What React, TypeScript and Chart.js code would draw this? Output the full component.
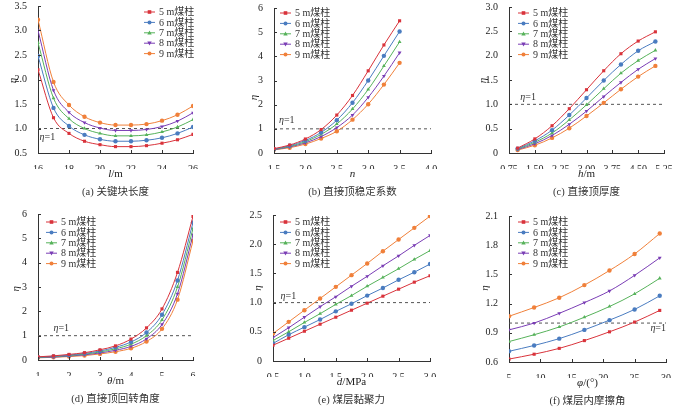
import { useEffect, useRef } from "react";
import { Chart, registerables } from "chart.js";
Chart.register(...registerables);

const SERIES = ["5 m煤柱", "6 m煤柱", "7 m煤柱", "8 m煤柱", "9 m煤柱"];
const COLORS = ["#d9333b", "#4a7cc0", "#56b25a", "#7a3db5", "#f0803a"];
const MARKERS = ["rect", "circle", "triangle", "triangle", "circle"];
const ROTATIONS = [0, 0, 0, 180, 0];

// (a) 关键块长度
const aX = [16, 17, 18, 19, 20, 21, 22, 23, 24, 25, 26];
const a5 = [2.2, 1.22, 0.9, 0.74, 0.67, 0.63, 0.63, 0.65, 0.7, 0.77, 0.88];
const a6 = [2.48, 1.42, 1.05, 0.87, 0.78, 0.74, 0.74, 0.76, 0.81, 0.9, 1.03];
const a7 = [2.75, 1.62, 1.2, 1.0, 0.9, 0.85, 0.85, 0.87, 0.93, 1.03, 1.18];
const a8 = [3.0, 1.78, 1.33, 1.12, 1.01, 0.96, 0.96, 0.98, 1.04, 1.15, 1.32];
const a9 = [3.22, 1.95, 1.48, 1.24, 1.12, 1.07, 1.07, 1.09, 1.16, 1.28, 1.46];

// (b) 直接顶稳定系数
const bX = [1.5, 1.75, 2.0, 2.25, 2.5, 2.75, 3.0, 3.25, 3.5];
const b5 = [0.18, 0.33, 0.58, 0.97, 1.57, 2.38, 3.4, 4.47, 5.47];
const b6 = [0.16, 0.3, 0.52, 0.85, 1.36, 2.08, 3.0, 4.02, 5.03];
const b7 = [0.15, 0.27, 0.47, 0.77, 1.2, 1.82, 2.63, 3.6, 4.6];
const b8 = [0.14, 0.25, 0.42, 0.68, 1.05, 1.57, 2.3, 3.18, 4.15];
const b9 = [0.13, 0.22, 0.37, 0.6, 0.9, 1.38, 2.02, 2.83, 3.73];

// (c) 直接顶厚度
const cX = [1.0, 1.5, 2.0, 2.5, 3.0, 3.5, 4.0, 4.5, 5.0];
const c5 = [0.1, 0.29, 0.56, 0.91, 1.3, 1.69, 2.04, 2.3, 2.49];
const c6 = [0.09, 0.25, 0.47, 0.78, 1.13, 1.49, 1.82, 2.1, 2.29];
const c7 = [0.08, 0.22, 0.41, 0.68, 0.99, 1.32, 1.64, 1.9, 2.11];
const c8 = [0.07, 0.19, 0.36, 0.59, 0.86, 1.16, 1.45, 1.72, 1.94];
const c9 = [0.06, 0.16, 0.31, 0.51, 0.76, 1.03, 1.31, 1.57, 1.79];

// (d) 直接顶回转角度
const dX = [1, 1.5, 2, 2.5, 3, 3.5, 4, 4.5, 5, 5.5, 6];
const d5 = [0.13, 0.17, 0.23, 0.3, 0.42, 0.58, 0.86, 1.32, 2.1, 3.6, 5.9];
const d6 = [0.12, 0.15, 0.2, 0.27, 0.37, 0.52, 0.74, 1.13, 1.86, 3.27, 5.65];
const d7 = [0.11, 0.14, 0.18, 0.24, 0.33, 0.46, 0.65, 1.0, 1.65, 3.0, 5.4];
const d8 = [0.1, 0.12, 0.16, 0.21, 0.29, 0.4, 0.56, 0.87, 1.46, 2.72, 5.15];
const d9 = [0.09, 0.11, 0.14, 0.18, 0.25, 0.34, 0.48, 0.76, 1.28, 2.48, 4.9];

// (e) 煤层黏聚力
const eX = [0.5, 0.75, 1.0, 1.25, 1.5, 1.75, 2.0, 2.25, 2.5, 2.75, 3.0];
const e5 = [0.27, 0.39, 0.51, 0.63, 0.75, 0.87, 0.99, 1.11, 1.23, 1.35, 1.46];
const e6 = [0.3, 0.45, 0.58, 0.71, 0.85, 0.98, 1.12, 1.25, 1.39, 1.52, 1.66];
const e7 = [0.35, 0.5, 0.66, 0.81, 0.97, 1.12, 1.28, 1.43, 1.58, 1.74, 1.89];
const e8 = [0.4, 0.57, 0.75, 0.93, 1.1, 1.28, 1.45, 1.63, 1.8, 1.98, 2.15];
const e9 = [0.47, 0.67, 0.87, 1.07, 1.27, 1.47, 1.67, 1.88, 2.08, 2.28, 2.48];

// (f) 煤层内摩擦角
const fX = [5, 9, 13, 17, 21, 25, 29];
const f5 = [0.63, 0.68, 0.74, 0.82, 0.91, 1.01, 1.13];
const f6 = [0.71, 0.77, 0.84, 0.93, 1.03, 1.14, 1.28];
const f7 = [0.81, 0.88, 0.96, 1.06, 1.17, 1.3, 1.46];
const f8 = [0.93, 1.0, 1.1, 1.21, 1.33, 1.49, 1.67];
const f9 = [1.07, 1.16, 1.26, 1.39, 1.54, 1.71, 1.92];

const FONT = '"Liberation Serif", "Noto Sans CJK SC", serif';

type Panel = {
  id: string;
  xs: number[];
  ys: number[][];
  x: [number, number, number, number]; // min, max, step, decimals
  y: [number, number, number, number];
  rect: [number, number, number, number]; // left, top, right, bottom of plot area
  yTitle: [number, number]; // offset left of axis, value
  legend: [number, number];
  eta: [number, number, "left" | "right"];
  xTitle: React.ReactNode;
  caption: string;
};

const PANELS: Panel[] = [
  {
    id: "a", xs: aX, ys: [a5, a6, a7, a8, a9],
    x: [16, 26, 2, 0], y: [0.5, 3.5, 0.5, 1],
    rect: [38, 5, 193, 153], yTitle: [25, 1.98], legend: [106, 6], eta: [16.1, 0.82, "left"],
    xTitle: <><i>l</i>/m</>, caption: "(a) 关键块长度",
  },
  {
    id: "b", xs: bX, ys: [b5, b6, b7, b8, b9],
    x: [1.5, 4.0, 0.5, 1], y: [0, 6, 1, 0],
    rect: [274, 7, 431, 153], yTitle: [20, 2.3], legend: [6, 5], eta: [1.58, 1.34, "left"],
    xTitle: <i>n</i>, caption: "(b) 直接顶稳定系数",
  },
  {
    id: "c", xs: cX, ys: [c5, c6, c7, c8, c9],
    x: [0.75, 5.25, 0.75, 2], y: [0, 3, 0.5, 1],
    rect: [509, 6, 664, 153], yTitle: [26, 1.49], legend: [9, 6], eta: [1.08, 1.15, "left"],
    xTitle: <><i>h</i>/m</>, caption: "(c) 直接顶厚度",
  },
  {
    id: "d", xs: dX, ys: [d5, d6, d7, d8, d9],
    x: [1, 6, 1, 0], y: [0, 6, 1, 0],
    rect: [38, 213, 193, 360], yTitle: [22, 2.93], legend: [8, 8], eta: [1.5, 1.32, "left"],
    xTitle: <><i>θ</i>/m</>, caption: "(d) 直接顶回转角度",
  },
  {
    id: "e", xs: eX, ys: [e5, e6, e7, e8, e9],
    x: [0.5, 3.0, 0.5, 1], y: [0, 2.5, 0.5, 1],
    rect: [273, 214, 430, 361], yTitle: [15, 1.25], legend: [7, 7], eta: [0.62, 1.1, "left"],
    xTitle: <><i>d</i>/MPa</>, caption: "(e) 煤层黏聚力",
  },
  {
    id: "f", xs: fX, ys: [f5, f6, f7, f8, f9],
    x: [5, 30, 5, 0], y: [0.6, 2.1, 0.3, 1],
    rect: [509, 215, 666, 362], yTitle: [24, 1.36], legend: [9, 6], eta: [30, 0.95, "right"],
    xTitle: <><i>φ</i>/(°)</>, caption: "(f) 煤层内摩擦角",
  },
];

const YW = 40;
const TOP_PAD = 8;
const RIGHT_PAD = 12;
const XH = 16;

function drawMarker(ctx: CanvasRenderingContext2D, i: number, x: number, y: number, r: number) {
  ctx.save();
  ctx.fillStyle = COLORS[i];
  ctx.translate(x, y);
  ctx.rotate((ROTATIONS[i] * Math.PI) / 180);
  ctx.beginPath();
  const style = MARKERS[i];
  if (style === "rect") {
    ctx.rect(-r * 0.9, -r * 0.9, r * 1.8, r * 1.8);
  } else if (style === "triangle") {
    ctx.moveTo(0, -r * 1.2);
    ctx.lineTo(r * 1.1, r * 0.8);
    ctx.lineTo(-r * 1.1, r * 0.8);
    ctx.closePath();
  } else {
    ctx.arc(0, 0, r, 0, Math.PI * 2);
  }
  ctx.fill();
  ctx.restore();
}

function ChartPanel({ p }: { p: Panel }) {
  const ref = useRef<HTMLCanvasElement>(null);
  const [l, t, r, b] = p.rect;
  const cw = r - l + YW + RIGHT_PAD;
  const ch = b - t + TOP_PAD + XH;

  useEffect(() => {
    if (!ref.current) return;
    const fmt = (dec: number) => (v: string | number) => {
      const n = Number(v);
      if (Math.abs(n) < 1e-9) return "0";
      return n.toFixed(dec);
    };
    const overlay = {
      id: "overlay" + p.id,
      afterDraw(chart: Chart) {
        const ctx = chart.ctx;
        const area = chart.chartArea;
        const xs = chart.scales.x;
        const ys = chart.scales.y;
        ctx.save();
        // inward ticks
        ctx.strokeStyle = "#333";
        ctx.lineWidth = 1;
        ctx.beginPath();
        xs.ticks.forEach(tk => {
          const px = Math.round(xs.getPixelForValue(tk.value)) + 0.5;
          ctx.moveTo(px, area.bottom);
          ctx.lineTo(px, area.bottom - 3);
        });
        ys.ticks.forEach(tk => {
          const py = Math.round(ys.getPixelForValue(tk.value)) + 0.5;
          ctx.moveTo(area.left, py);
          ctx.lineTo(area.left + 3, py);
        });
        ctx.stroke();
        // y title η, rotated
        ctx.save();
        ctx.translate(area.left - p.yTitle[0], ys.getPixelForValue(p.yTitle[1]));
        ctx.rotate(-Math.PI / 2);
        ctx.fillStyle = "#222";
        ctx.font = `italic 11px ${FONT}`;
        ctx.textAlign = "center";
        ctx.textBaseline = "middle";
        ctx.fillText("η", 0, 0);
        ctx.restore();
        // η=1 label
        ctx.fillStyle = "#333";
        ctx.font = `italic 10px ${FONT}`;
        ctx.textBaseline = "middle";
        ctx.textAlign = p.eta[2];
        const ex = xs.getPixelForValue(p.eta[0]);
        const ey = ys.getPixelForValue(p.eta[1]);
        if (p.eta[2] === "left") {
          ctx.fillText("η", ex, ey);
          const w = ctx.measureText("η").width;
          ctx.font = `10px ${FONT}`;
          ctx.fillText("=1", ex + w, ey);
        } else {
          ctx.font = `10px ${FONT}`;
          ctx.fillText("=1", ex, ey);
          const w = ctx.measureText("=1").width;
          ctx.font = `italic 10px ${FONT}`;
          ctx.fillText("η", ex - w, ey);
        }
        // legend
        const lx = area.left + p.legend[0];
        const ly0 = area.top + p.legend[1];
        SERIES.forEach((name, i) => {
          const ly = ly0 + i * 10.4;
          ctx.strokeStyle = COLORS[i];
          ctx.lineWidth = 1;
          ctx.beginPath();
          ctx.moveTo(lx, ly);
          ctx.lineTo(lx + 11, ly);
          ctx.stroke();
          drawMarker(ctx, i, lx + 5.5, ly, 2);
          ctx.fillStyle = "#333";
          ctx.font = `10px ${FONT}`;
          ctx.textAlign = "left";
          ctx.fillText(name, lx + 15, ly + 0.5);
        });
        ctx.restore();
      },
    };

    const datasets: any[] = p.ys.map((ys, i) => ({
      label: SERIES[i],
      data: p.xs.map((xv, j) => ({ x: xv, y: ys[j] })),
      borderColor: COLORS[i],
      backgroundColor: COLORS[i],
      borderWidth: 1,
      pointStyle: MARKERS[i],
      rotation: ROTATIONS[i],
      pointRadius: 2.2,
      pointBorderWidth: 0,
      cubicInterpolationMode: "monotone",
      order: 1,
    }));
    datasets.push({
      label: "η=1",
      data: [{ x: p.x[0], y: 1 }, { x: p.x[1], y: 1 }],
      borderColor: "#555",
      borderWidth: 1,
      borderDash: [3, 3],
      pointRadius: 0,
      order: 10,
    });

    const tickFont = { family: FONT, size: 10 };
    const chart = new Chart(ref.current, {
      type: "line",
      data: { datasets },
      options: {
        animation: false,
        responsive: false,
        maintainAspectRatio: false,
        layout: { padding: { top: TOP_PAD, right: RIGHT_PAD, left: 0, bottom: 0 } },
        plugins: { legend: { display: false }, tooltip: { enabled: false } },
        scales: {
          x: {
            type: "linear",
            min: p.x[0], max: p.x[1],
            ticks: { stepSize: p.x[2], callback: fmt(p.x[3]), font: tickFont, color: "#222", padding: 2, maxRotation: 0, autoSkip: false },
            grid: { display: false },
            border: { color: "#333", width: 1 },
            afterFit: (s: any) => { s.height = XH; },
          },
          y: {
            type: "linear",
            min: p.y[0], max: p.y[1],
            ticks: { stepSize: p.y[2], callback: fmt(p.y[3]), font: tickFont, color: "#222", padding: 3, autoSkip: false },
            grid: { display: false },
            border: { color: "#333", width: 1 },
            afterFit: (s: any) => { s.width = YW; },
          },
        },
      },
      plugins: [overlay],
    });
    return () => chart.destroy();
  }, []);

  const cx = (l + r) / 2;
  return (
    <>
      <canvas
        ref={ref}
        width={cw}
        height={ch}
        style={{ position: "absolute", left: l - YW, top: t - TOP_PAD, width: cw, height: ch }}
      />
      <div style={{ position: "absolute", left: cx - 60, width: 120, top: b + 14, textAlign: "center", fontFamily: FONT, fontSize: 11, color: "#222", lineHeight: "12px" }}>
        {p.xTitle}
      </div>
      <div style={{ position: "absolute", left: cx - 80, width: 160, top: b + 33, textAlign: "center", fontFamily: FONT, fontSize: 10.5, color: "#333", lineHeight: "12px" }}>
        {p.caption}
      </div>
    </>
  );
}

export default function App() {
  return (
    <div style={{ position: "fixed", left: 0, top: 0, width: 680, height: 408, background: "#fff", overflow: "hidden" }}>
      {PANELS.map(p => <ChartPanel key={p.id} p={p} />)}
    </div>
  );
}
